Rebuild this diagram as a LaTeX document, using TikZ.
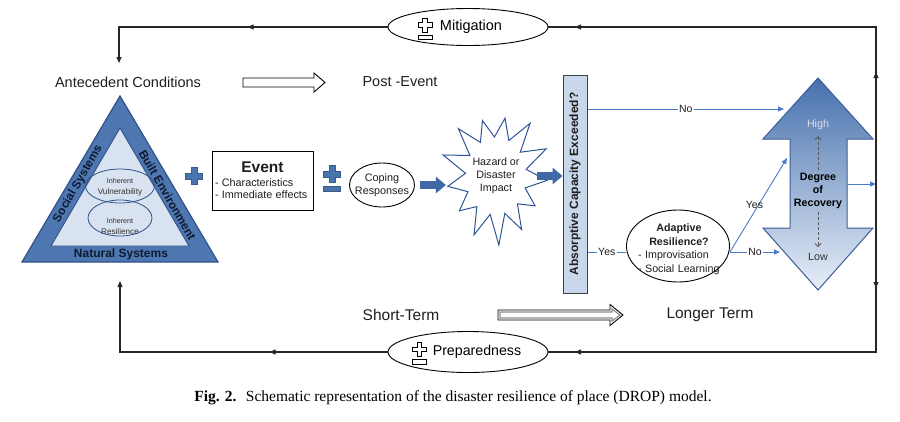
\documentclass[tikz,border=0pt]{standalone}
\usepackage{fontspec}
\setmainfont{Liberation Sans}
\newfontfamily\capfont{Liberation Serif}
\usetikzlibrary{shapes.geometric,arrows.meta,decorations.markings,calc}
\newcommand\myfs[2]{\fontsize{#1}{#2}\selectfont}
\definecolor{tblue}{HTML}{4E77B1}
\definecolor{tedge}{HTML}{2F5289}
\definecolor{tlight}{HTML}{D8E2F0}
\definecolor{pblue}{HTML}{4A72AD}
\definecolor{pedge}{HTML}{385D8A}
\definecolor{barfill}{HTML}{C9D7EA}
\definecolor{lblue}{HTML}{4A7BC4}
\definecolor{ablue}{HTML}{3F69A6}
\definecolor{rtop}{HTML}{4671AD}
\definecolor{rmidc}{HTML}{6D90C6}
\definecolor{rbot}{HTML}{E8EEF8}
\definecolor{redge}{HTML}{3B5F96}
\definecolor{txt}{HTML}{1F1F1F}
\definecolor{tritxt}{HTML}{0E1A30}
\definecolor{stedge}{HTML}{2F5597}
\tikzset{
  lbl/.style={inner sep=0pt, text=txt, font=\myfs{14.5}{16}},
  bigl/.style={inner sep=0pt, text=txt, font=\myfs{15.5}{17}},
  loopline/.style={draw=black!85, line width=1.1pt},
  looptip/.style={-{Triangle[length=6pt,width=5pt]}},
  mkone/.style={postaction={decorate, decoration={markings,
      mark=at position #1 with {\arrow{Triangle[length=6pt,width=5pt]}}}}},
  mktwo/.style 2 args={postaction={decorate, decoration={markings,
      mark=at position #1 with {\arrow{Triangle[length=6pt,width=5pt]}},
      mark=at position #2 with {\arrow{Triangle[length=6pt,width=5pt]}}}}},
  bline/.style={draw=lblue, line width=0.9pt},
  btip/.style={-{Triangle[length=6pt,width=5pt]}},
  lab/.style={fill=white, inner sep=1.5pt, text=txt, font=\myfs{10.5}{12}},
  blockarr/.style={draw=ablue, line width=8pt, -{Triangle[length=10pt,width=17pt,line width=0pt]}},
  oval/.style={ellipse, draw=black, line width=0.9pt, fill=white, inner sep=0pt},
  dasharr/.style={draw=black!65, line width=0.8pt, dash pattern=on 3pt off 2pt,
      -{Straight Barb[length=3pt,width=6pt]}},
  tritext/.style={text=tritxt, inner sep=0pt, font=\myfs{11.8}{13}\bfseries},
  inntext/.style={text=black!80, inner sep=0pt, align=center},
  bplus/.pic={\filldraw[fill=pblue, draw=pedge, line width=0.6pt]
      (-3,-8.5) -- (3,-8.5) -- (3,-3) -- (8.5,-3) -- (8.5,3) -- (3,3) -- (3,8.5)
      -- (-3,8.5) -- (-3,3) -- (-8.5,3) -- (-8.5,-3) -- (-3,-3) -- cycle;},
  oplus/.pic={\filldraw[fill=white, draw=black, line width=0.8pt]
      (-2.3,-7) -- (2.3,-7) -- (2.3,-2.3) -- (7,-2.3) -- (7,2.3) -- (2.3,2.3) -- (2.3,7)
      -- (-2.3,7) -- (-2.3,2.3) -- (-7,2.3) -- (-7,-2.3) -- (-2.3,-2.3) -- cycle;
      \filldraw[fill=white, draw=black, line width=0.8pt] (-7,10) rectangle (7,14.5);}
}
\begin{document}
\begin{tikzpicture}[x=1pt,y=-1pt]
\useasboundingbox (0,0) rectangle (900,421);
\fill[white] (0,0) rectangle (900,421);

% ---------- header / footer labels
\node[lbl] (ante) at (128,82) {Antecedent Conditions};
\node[lbl] (post) at (400,82) {Post -Event};
\node[bigl] (shortt) at (401,315) {Short-Term};
\node[bigl] (longt) at (710,315) {Longer Term};

% hollow arrows
\filldraw[fill=white, draw=black, line width=0.9pt]
  (243,78) -- (314,78) -- (314,73) -- (325,82.5) -- (314,92) -- (314,87) -- (243,87) -- cycle;
\filldraw[fill=white, draw=black, line width=0.9pt]
  (498,310) -- (610,310) -- (610,304.5) -- (623,315) -- (610,325.5) -- (610,320) -- (498,320) -- cycle;
\draw[black!45, line width=1.1pt]
  (500,312) -- (612,312) -- (612,309) -- (620,315) -- (612,321) -- (612,318) -- (500,318) -- cycle;

% ---------- mitigation / preparedness
\node[oval, minimum width=160pt, minimum height=37pt, font=\myfs{14.5}{16}] (mit) at (468,27)
  {\hspace{6pt}Mitigation};
\pic at (425,25) {oplus};
\node[oval, minimum width=160pt, minimum height=41pt, font=\myfs{14.2}{16}] (prep) at (468,352)
  {\hspace{18pt}Preparedness};
\pic at (419.5,349.5) {oplus};

\coordinate (rmid) at (876,184);
\coordinate (rtop) at (876,27);
\coordinate (rbot) at (876,352);
\coordinate (antetop) at (119,63);
\coordinate (tribot) at (120,281);
\draw[loopline, mktwo={112pt}{458pt}] (rmid) -- (rtop) -- (mit.east);
\draw[loopline, looptip, mkone=140pt] (mit.west) -| (antetop);
\draw[loopline, mktwo={104pt}{469pt}] (rmid) -- (rbot) -- (prep.east);
\draw[loopline, looptip, mkone=118pt] (prep.west) -| (tribot);

% ---------- triangle
\filldraw[fill=tblue, draw=tedge, line width=1.2pt] (120,96) -- (218,262) -- (22,262) -- cycle;
\filldraw[fill=tlight, draw=tedge, line width=0.9pt] (120,128) -- (189,246) -- (51,246) -- cycle;
\node[tritext, rotate=60] (soc) at (78,184) {Social Systems};
\node[tritext, rotate=-60] (built) at (167.5,195) {Built Environment};
\node[tritext, font=\myfs{12}{13}\bfseries] (nat) at (121,254.5) {Natural Systems};
\node[ellipse, draw=tedge, line width=0.8pt, minimum width=69pt, minimum height=34pt, inner sep=0pt] (vul) at (120,186) {};
\node[ellipse, draw=tedge, line width=0.8pt, minimum width=64pt, minimum height=36pt, inner sep=0pt] (res) at (120,218) {};
\node[inntext] (vultxt) at (120,187) {{\myfs{7.2}{8}Inherent}\\[-1pt]{\myfs{8.2}{9}Vulnerability}};
\node[inntext] (restxt) at (120,226) {{\myfs{7.2}{8}Inherent}\\[-1pt]{\myfs{8.2}{9}Resilience}};

% ---------- plus signs
\pic at (194,176) {bplus};
\pic at (332,174) {bplus};
\filldraw[fill=pblue, draw=pedge, line width=0.6pt] (323.5,186) rectangle (340.5,191.5);

% ---------- event
\node[draw=black, line width=1pt, text width=95pt, minimum height=59pt, inner xsep=3pt, inner ysep=0pt,
      align=left, text=txt] (event) at (262.5,180.5)
  {{\centering\myfs{15.5}{17}\bfseries Event\par}\myfs{10.8}{14}- Characteristics\\- Immediate effects};

% ---------- coping
\node[ellipse, draw=black, line width=0.9pt, minimum width=65pt, minimum height=44pt, inner sep=0pt] (coping) at (382,185) {};
\node[align=center, inner sep=0pt, text=txt, font=\myfs{10.8}{13}] (copingtxt) at (coping.center) {Coping\\Responses};

% ---------- hazard star
\node[minimum width=100pt, minimum height=128pt, inner sep=0pt] (hz) at (496,176) {};
\begin{scope}[shift={(hz.center)}]
\filldraw[fill=white, draw=stedge, line width=1pt]
  plot[samples at={0,1,...,25}, variable=\t]
  ({\t*360/26+4}:{51*ifthenelse(mod(\t,2)==0,1+0.1*sin(\t*137),0.6)} and {63*ifthenelse(mod(\t,2)==0,1+0.1*sin(\t*137),0.62)}) -- cycle;
\end{scope}
\node[align=center, inner sep=0pt, text=txt, font=\myfs{10.7}{13}] (hazard) at (hz.center) {Hazard or\\Disaster\\Impact};

\draw[blockarr] ([xshift=5pt]coping.east) -- (coping.east -| hz.west);

% ---------- absorptive capacity bar
\node[draw=black!75, fill=barfill, line width=1pt, minimum width=24pt, minimum height=218pt, inner sep=0pt] (bar) at (575,184) {};
\node[rotate=90, inner sep=0pt, text=txt, font=\myfs{12}{13}\bfseries] (bartxt) at (bar.center) {Absorptive Capacity Exceeded?};
\draw[blockarr] ([xshift=-9pt]hz.east) -- (hz.east -| bar.west);

% ---------- adaptive resilience
\node[ellipse, draw=black, line width=0.9pt, minimum width=103pt, minimum height=72pt, inner sep=0pt] (adapt) at (678,246) {};
\node[text width=82pt, align=left, inner sep=0pt, text=txt, font=\myfs{10.7}{13.5}] (adapttxt) at (679,249)
  {{\centering\bfseries Adaptive\\Resilience?\par}- Improvisation\\- Social Learning};

% ---------- degree of recovery arrow
\draw[draw=redge, line width=1pt, top color=rtop, middle color=rmidc, bottom color=rbot]
  (818,78) -- (873,139) -- (847,139) -- (847,228) -- (873,228) -- (818,290) -- (763,228)
  -- (790,228) -- (790,139) -- (763,139) -- cycle;
\node[align=center, inner sep=2pt, text=black, font=\myfs{10.7}{13}\bfseries] (recov) at (818,191) {Degree\\of\\Recovery};
\node[inner sep=1pt, text=black!12, font=\myfs{10.7}{12}] (high) at (818,125) {High};
\node[inner sep=1pt, text=black!80, font=\myfs{10.7}{12}] (low) at (818,257) {Low};
\draw[dasharr, shorten >=5pt, shorten <=1pt] (recov.north) -- (high.south);
\draw[dasharr, shorten >=5pt, shorten <=1pt] (recov.south) -- (low.north);

% ---------- decision connectors
\coordinate (noY) at (600,109);
\coordinate (noend) at (784,109);
\coordinate (yesY) at (600,252);
\coordinate (nolow) at (780,252);
\coordinate (yesend) at (787,158);
\coordinate (shaftR) at (847,184);
\draw[bline, btip] (bar.east |- noY) -- node[lab] (no1) {No} (noend);
\draw[bline] (bar.east |- yesY) -- node[lab] (yes1) {Yes} (adapt.west |- yesY);
\draw[bline, btip] (adapt.east |- nolow) -- node[lab] (no2) {No} (nolow);
\draw[bline, btip] (adapt.east |- nolow) -- node[lab, pos=0.5, xshift=-4pt, fill=none] (yes2) {Yes} (yesend);
\draw[bline, btip] (shaftR) -- (rmid);

% ---------- caption
\node[inner sep=0pt, text=black, font=\capfont\myfs{15.5}{17}] (cap) at (453,398)
  {\textbf{Fig. 2.}\hspace{0.6em}Schematic representation of the disaster resilience of place (DROP) model.};
\end{tikzpicture}
\end{document}
